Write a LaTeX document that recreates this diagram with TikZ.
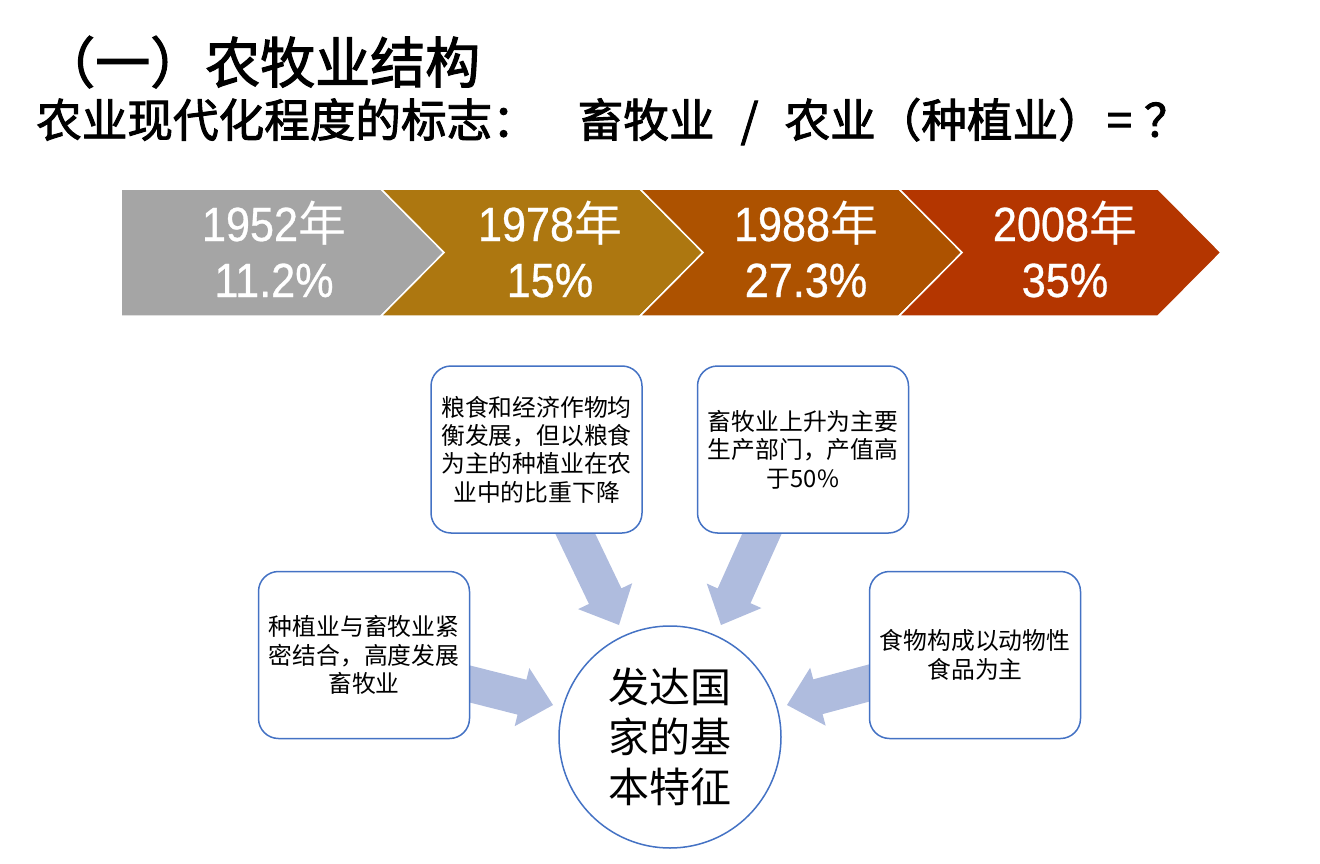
\documentclass[tikz,border=0pt]{standalone}
\usepackage{fontspec}
\setmainfont{Noto Sans CJK SC}
\newfontfamily\cjk{Noto Sans CJK SC}
\newfontfamily\cjkt[FakeBold=2]{Noto Sans CJK SC}
\newfontfamily\lat[FakeStretch=0.9,FakeBold=0.6]{Liberation Sans}
\usetikzlibrary{calc}
\pgfdeclarelayer{bg}
\pgfsetlayers{bg,main}
\definecolor{chgray}{RGB}{165,165,165}
\definecolor{chgold}{RGB}{173,119,16}
\definecolor{chbrown}{RGB}{173,82,0}
\definecolor{chred}{RGB}{180,54,0}
\definecolor{boxblue}{RGB}{68,114,196}
\definecolor{arrowfill}{RGB}{175,188,222}
\newcommand{\nian}{{\cjk 年}}
\newcommand{\blkarrow}[3]{%
  \coordinate (#1s) at ($(#2)!-16pt!(#3)$);
  \coordinate (#1h) at ($(#3)!32pt!(#2)$);
  \fill[arrowfill] ($(#1s)!18pt!90:(#3)$) -- ($(#1h)!18pt!90:(#3)$) -- ($(#1h)!30pt!90:(#3)$) -- (#3)
    -- ($(#1h)!30pt!-90:(#3)$) -- ($(#1h)!18pt!-90:(#3)$) -- ($(#1s)!18pt!-90:(#3)$) -- cycle;
}
\begin{document}
\begin{tikzpicture}[x=1pt,y=-1pt,
  chev/.style={draw=white, line width=1.5pt, line join=miter},
  chevtxt/.style={anchor=base, inner sep=0, text=white, font=\lat\fontsize{48}{56}\selectfont},
  title/.style={anchor=base west, inner sep=0, font=\cjkt},
  infobox/.style={draw=boxblue, line width=1.5pt, fill=white, rounded corners=20pt,
    minimum width=211pt, minimum height=167pt, inner sep=0, outer sep=0, align=center,
    font=\cjk\fontsize{23.8}{28.3}\selectfont},
  hub/.style={circle, draw=boxblue, line width=1.5pt, fill=white, minimum size=222pt,
    inner sep=0, outer sep=0, align=center, font=\cjk\fontsize{41}{50}\selectfont}]
\useasboundingbox (0,0) rectangle (1320,864);

% titles
\node[title, font=\cjkt\fontsize{55}{62}\selectfont] (t1) at (40,83) {（一）农牧业结构};
\node[title, font=\cjkt\fontsize{45.6}{52}\selectfont] (t2) at (36,137)
  {农业现代化程度的标志：\hspace{40pt}畜牧业\makebox[70pt]{/}农业（种植业）\hspace{3pt}=\hspace{12pt}？};

% chevrons
\fill[chgray, chev] (121,189) -- (381,189) -- (444,252.5) -- (381,316) -- (121,316) -- cycle;
\fill[chgold, chev] (381,189) -- (640,189) -- (703,252.5) -- (640,316) -- (381,316) -- (444,252.5) -- cycle;
\fill[chbrown, chev] (640,189) -- (899,189) -- (962,252.5) -- (899,316) -- (640,316) -- (703,252.5) -- cycle;
\fill[chred, chev] (899,189) -- (1158,189) -- (1221,252.5) -- (1158,316) -- (899,316) -- (962,252.5) -- cycle;

\node[chevtxt] (y1) at (274,241) {1952\nian};
\node[chevtxt] (v1) at (274,297) {11.2\%};
\node[chevtxt] (y2) at (550,241) {1978\nian};
\node[chevtxt] (v2) at (550,297) {15\%};
\node[chevtxt] (y3) at (806,241) {1988\nian};
\node[chevtxt] (v3) at (806,297) {27.3\%};
\node[chevtxt] (y4) at (1065,241) {2008\nian};
\node[chevtxt] (v4) at (1065,297) {35\%};

% boxes and hub
\node[infobox] (b1) at (536.5,449.5) {粮食和经济作物均\\衡发展，但以粮食\\为主的种植业在农\\业中的比重下降};
\node[infobox] (b2) at (803,449.5) {畜牧业上升为主要\\生产部门，产值高\\于50\%};
\node[infobox] (b3) at (364,655) {种植业与畜牧业紧\\密结合，高度发展\\畜牧业};
\node[infobox] (b4) at (975,655) {食物构成以动物性\\食品为主};
\node[hub] (c) at (670,737) {发达国\\家的基\\本特征};

% arrows
\coordinate (e1) at ($(b1.south west)!0.682!(b1.south east)$);
\coordinate (e2) at ($(b2.south west)!0.307!(b2.south east)$);
\coordinate (e3) at ($(b3.north east)!0.673!(b3.south east)$);
\coordinate (e4) at ($(b4.north west)!0.667!(b4.south west)$);
\coordinate (p1) at ($(c.center)+(-51,-112)$);
\coordinate (p2) at ($(c.center)+(51,-112)$);
\coordinate (p3) at ($(c.center)+(-117,-32)$);
\coordinate (p4) at ($(c.center)+(117,-32)$);
\begin{pgfonlayer}{bg}
\blkarrow{a1}{e1}{p1}
\blkarrow{a2}{e2}{p2}
\blkarrow{a3}{e3}{p3}
\blkarrow{a4}{e4}{p4}
\end{pgfonlayer}
\end{tikzpicture}
\end{document}
